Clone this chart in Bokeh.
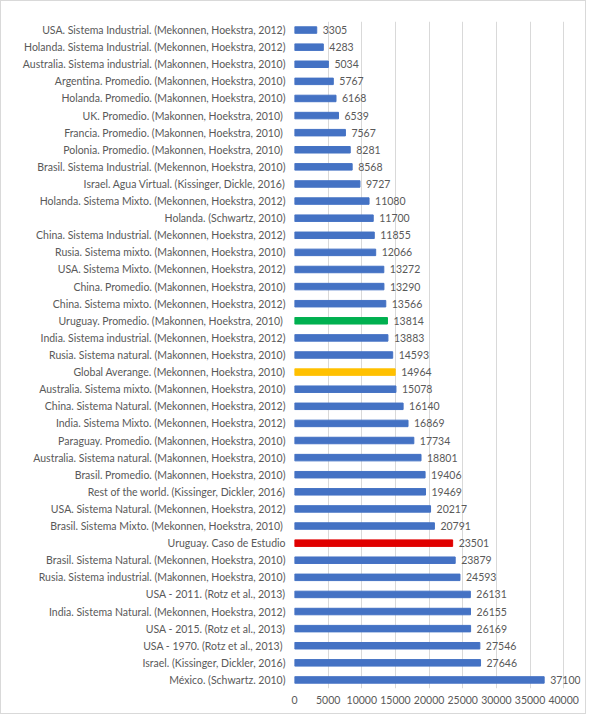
from bokeh.plotting import figure
from bokeh.models import ColumnDataSource, Range1d, FactorRange, FixedTicker, LabelSet
from bokeh.core.properties import value
from bokeh.embed import file_html
from bokeh.resources import INLINE

labels = [
    "USA. Sistema Industrial. (Mekonnen, Hoekstra, 2012)",
    "Holanda. Sistema Industrial. (Mekonnen, Hoekstra, 2012)",
    "Australia. Sistema industrial. (Makonnen, Hoekstra, 2010)",
    "Argentina. Promedio. (Makonnen, Hoekstra, 2010)",
    "Holanda. Promedio. (Makonnen, Hoekstra, 2010)",
    "UK.  Promedio. (Makonnen, Hoekstra, 2010)",
    "Francia.  Promedio. (Makonnen, Hoekstra, 2010)",
    "Polonia.  Promedio. (Makonnen, Hoekstra, 2010)",
    "Brasil. Sistema Industrial. (Mekennon, Hoekstra, 2010)",
    "Israel. Agua Virtual. (Kissinger, Dickle, 2016)",
    "Holanda. Sistema Mixto. (Mekonnen, Hoekstra, 2012)",
    "Holanda. (Schwartz, 2010)",
    "China. Sistema Industrial. (Mekonnen, Hoekstra, 2012)",
    "Rusia. Sistema mixto. (Makonnen, Hoekstra, 2010)",
    "USA. Sistema Mixto. (Mekonnen, Hoekstra, 2012)",
    "China. Promedio. (Makonnen, Hoekstra, 2010)",
    "China. Sistema mixto. (Mekonnen, Hoekstra, 2012)",
    "Uruguay.  Promedio. (Makonnen, Hoekstra, 2010)",
    "India. Sistema industrial. (Mekonnen, Hoekstra, 2012)",
    "Rusia. Sistema natural. (Makonnen, Hoekstra, 2010)",
    "Global Averange. (Mekonnen, Hoekstra, 2010)",
    "Australia. Sistema mixto. (Makonnen, Hoekstra, 2010)",
    "China. Sistema Natural. (Mekonnen, Hoekstra, 2012)",
    "India. Sistema Mixto. (Mekonnen, Hoekstra, 2012)",
    "Paraguay. Promedio. (Makonnen, Hoekstra, 2010)",
    "Australia. Sistema natural. (Makonnen, Hoekstra, 2010)",
    "Brasil. Promedio. (Makonnen, Hoekstra, 2010)",
    "Rest of the world. (Kissinger, Dickler, 2016)",
    "USA. Sistema Natural. (Mekonnen, Hoekstra, 2012)",
    "Brasil. Sistema Mixto.  (Mekonnen, Hoekstra, 2010)",
    "Uruguay. Caso de Estudio",
    "Brasil. Sistema Natural. (Mekonnen, Hoekstra, 2010)",
    "Rusia. Sistema industrial. (Makonnen, Hoekstra, 2010)",
    "USA - 2011. (Rotz et al., 2013)",
    "India. Sistema Natural. (Mekonnen, Hoekstra, 2012)",
    "USA - 2015. (Rotz et al., 2013)",
    "USA - 1970.  (Rotz et al., 2013)",
    "Israel. (Kissinger, Dickler, 2016)",
    "México. (Schwartz. 2010)",
]
values = [3305, 4283, 5034, 5767, 6168, 6539, 7567, 8281, 8568, 9727,
          11080, 11700, 11855, 12066, 13272, 13290, 13566, 13814, 13883, 14593,
          14964, 15078, 16140, 16869, 17734, 18801, 19406, 19469, 20217, 20791,
          23501, 23879, 24593, 26131, 26155, 26169, 27546, 27646, 37100]
highlights = {
    "Uruguay.  Promedio. (Makonnen, Hoekstra, 2010)": "#00B050",
    "Global Averange. (Mekonnen, Hoekstra, 2010)": "#FFC000",
    "Uruguay. Caso de Estudio": "#E00000",
}
x_ticks = list(range(0, 40001, 5000))

BLUE = "#4472C4"
TEXT = "#595959"
FONT = "Lato"

colors = [highlights.get(l, BLUE) for l in labels]
src = ColumnDataSource(dict(label=labels, val=values, color=colors,
                            txt=[str(v) for v in values]))

p = figure(width=586, height=714, output_backend="svg", toolbar_location=None,
           y_range=FactorRange(factors=list(reversed(labels))),
           x_range=Range1d(0, 42500),
           min_border_left=293, min_border_right=7, min_border_top=20,
           min_border_bottom=27)
p.outline_line_color = None
p.styles = {"border": "1px solid #d9d9d9", "box-sizing": "border-box"}

p.hbar(y="label", right="val", left=0, height=0.38, color="color", source=src)
p.add_layout(LabelSet(x="val", y="label", text="txt", source=src, x_offset=6,
                      text_baseline="middle", text_align="left",
                      text_font_size="10.5px", text_color=TEXT,
                      text_font=value(FONT)))

p.xaxis.ticker = FixedTicker(ticks=x_ticks)
p.xgrid.ticker = FixedTicker(ticks=x_ticks)
p.xgrid.grid_line_color = "#d9d9d9"
p.ygrid.grid_line_color = None
for ax in (p.xaxis, p.yaxis):
    ax.axis_line_color = None
    ax.major_tick_line_color = None
    ax.minor_tick_line_color = None
    ax.major_tick_out = 0
    ax.major_tick_in = 0
    ax.major_label_text_color = TEXT
    ax.major_label_text_font = FONT
    ax.major_label_text_font_size = "10.5px"
p.xaxis.major_label_standoff = 7
p.yaxis.major_label_standoff = 9

open("out.html", "w").write(file_html(p, INLINE))
